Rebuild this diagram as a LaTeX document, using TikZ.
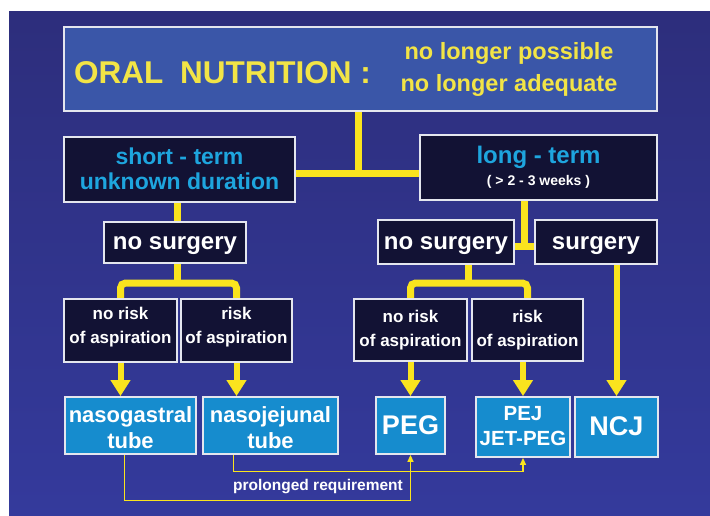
\documentclass[tikz,border=0pt]{standalone}
\usepackage{fontspec}
\setmainfont{Liberation Sans}
\usetikzlibrary{arrows.meta}
\definecolor{bgtop}{RGB}{45,46,124}
\definecolor{bgbot}{RGB}{52,58,156}
\definecolor{topfill}{RGB}{58,86,168}
\definecolor{darkfill}{RGB}{18,18,52}
\definecolor{tubefill}{RGB}{22,140,206}
\definecolor{cyantext}{RGB}{30,165,222}
\definecolor{yel}{RGB}{250,228,30}
\definecolor{yeltext}{RGB}{242,228,70}
\definecolor{edge}{RGB}{228,230,238}
\pgfdeclarelayer{back}
\pgfdeclarelayer{wires}
\pgfsetlayers{back,wires,main}
% lines of text, lowered by #1 without changing the box size
\newcommand\boxtext[2]{\raisebox{-#1}[\height][\depth]{\begin{tabular}{@{}c@{}}#2\end{tabular}}}
\tikzset{
  box/.style={draw=edge, line width=1.8pt, inner sep=0pt},
  darkbox/.style={box, fill=darkfill, text=white},
  tubebox/.style={box, fill=tubefill, text=white},
  conn/.style={draw=yel, line width=7pt},
  arr/.style={draw=yel, line width=6pt, -{Triangle[width=19pt,length=16pt]}},
  thinarr/.style={draw=yel, line width=1.4pt, -{Triangle[width=6pt,length=7pt]}},
  txt/.style={inner sep=0pt},
}
\begin{document}
\begin{tikzpicture}[x=1pt,y=-1pt]
\useasboundingbox (0,0) rectangle (710,515);
\begin{pgfonlayer}{back}
  \fill[white] (0,0) rectangle (710,515);
  \shade[top color=bgtop, bottom color=bgbot] (9,11) rectangle (710,515);
\end{pgfonlayer}

% top box
\node[box, fill=topfill, minimum width=593pt, minimum height=84pt] (top) at (360.5,69) {};
\node[txt, anchor=west, text=yeltext, font=\bfseries\fontsize{31.5}{34}\selectfont] (oral) at (74,73) {ORAL\hspace{8pt} NUTRITION :};
\node[txt, align=center, text=yeltext, font=\bfseries\fontsize{23.5}{32}\selectfont] (cond) at (509,69) {no longer possible\\no longer adequate};

% second row
\node[darkbox, text=cyantext, minimum width=231pt, minimum height=65pt, font=\bfseries\fontsize{23}{25}\selectfont] (short) at (179.5,169.5) {\boxtext{2pt}{short - term\\unknown duration}};
\node[darkbox, align=center, minimum width=237pt, minimum height=65pt, font=\bfseries\fontsize{14}{22}\selectfont] (long) at (538.5,167.5) {{\fontsize{24}{22}\selectfont\color{cyantext}long - term}\\( > 2 - 3 weeks )};

% surgery row
\node[darkbox, minimum width=142pt, minimum height=41pt, font=\bfseries\fontsize{24}{26}\selectfont] (nsL) at (175,242.5) {\boxtext{1.5pt}{no surgery}};
\node[darkbox, minimum width=136pt, minimum height=44pt, font=\bfseries\fontsize{24}{26}\selectfont] (nsR) at (446,242) {\boxtext{2pt}{no surgery}};
\node[darkbox, minimum width=122pt, minimum height=44pt, font=\bfseries\fontsize{24}{26}\selectfont] (surg) at (596,242) {\boxtext{2pt}{surgery}};

% risk row
\node[darkbox, minimum width=113pt, minimum height=63pt, font=\bfseries\fontsize{17}{24}\selectfont] (nr1) at (120.5,330.5) {\boxtext{-4pt}{no risk\\of aspiration}};
\node[darkbox, minimum width=111pt, minimum height=63pt, font=\bfseries\fontsize{17}{24}\selectfont] (r1) at (236.5,330.5) {\boxtext{-4pt}{risk\\of aspiration}};
\node[darkbox, minimum width=113pt, minimum height=62pt, font=\bfseries\fontsize{17}{24}\selectfont] (nr2) at (410.5,330) {\boxtext{0pt}{no risk\\of aspiration}};
\node[darkbox, minimum width=111pt, minimum height=62pt, font=\bfseries\fontsize{17}{24}\selectfont] (r2) at (527.5,330) {\boxtext{0pt}{risk\\of aspiration}};

% tube row
\node[tubebox, minimum width=131pt, minimum height=57pt, font=\bfseries\fontsize{22}{26}\selectfont] (ng) at (130.5,425.5) {\boxtext{5pt}{nasogastral\\tube}};
\node[tubebox, minimum width=135pt, minimum height=57pt, font=\bfseries\fontsize{22}{26}\selectfont] (nj) at (270.5,425.5) {\boxtext{5pt}{nasojejunal\\tube}};
\node[tubebox, minimum width=69pt, minimum height=57pt, font=\bfseries\fontsize{27}{30}\selectfont] (peg) at (410.5,425.5) {\boxtext{3pt}{PEG}};
\node[tubebox, minimum width=94pt, minimum height=60pt, font=\bfseries\fontsize{20.5}{25}\selectfont] (pej) at (523,427) {\boxtext{1pt}{PEJ\\JET-PEG}};
\node[tubebox, minimum width=83pt, minimum height=60pt, font=\bfseries\fontsize{27}{30}\selectfont] (ncj) at (616.5,427) {\boxtext{2pt}{NCJ}};

\node[txt, text=white, font=\bfseries\fontsize{15.5}{17}\selectfont] (prl) at (318,487) {prolonged requirement};

\coordinate (jT) at (358,173);
\coordinate (cL) at (177,283);
\coordinate (jR) at (524,246);
\coordinate (cR) at (468,283);
\coordinate (p1) at (124.5,500.5);
\coordinate (p2) at (233.5,471.5);

\begin{pgfonlayer}{wires}
  \draw[conn] (jT |- top.south) -- (jT);
  \draw[conn] (short.east |- jT) -- (long.west |- jT);
  \draw[conn] (cL |- short.south) -- (cL |- nsL.north);
  \draw[conn] (cL |- nsL.south) -- (cL);
  \draw[conn, rounded corners=5pt] (nr1.north) |- (cL) -| (r1.north);
  \draw[conn] (jR |- long.south) -- (jR);
  \draw[conn] (nsR.east |- jR) -- (surg.west |- jR);
  \draw[conn] (cR |- nsR.south) -- (cR);
  \draw[conn, rounded corners=5pt] (nr2.north) |- (cR) -| (r2.north);
  \draw[arr] (nr1.south) -- (nr1.south |- ng.north);
  \draw[arr] (r1.south) -- (r1.south |- nj.north);
  \draw[arr] (nr2.south) -- (nr2.south |- peg.north);
  \draw[arr] (pej.north |- r2.south) -- (pej.north);
  \draw[arr] (ncj.north |- surg.south) -- (ncj.north);
  \draw[thinarr] (p1 |- ng.south) -- (p1) -| (peg.south);
  \draw[thinarr] (p2 |- nj.south) -- (p2) -| (pej.south);
\end{pgfonlayer}
\end{tikzpicture}
\end{document}
